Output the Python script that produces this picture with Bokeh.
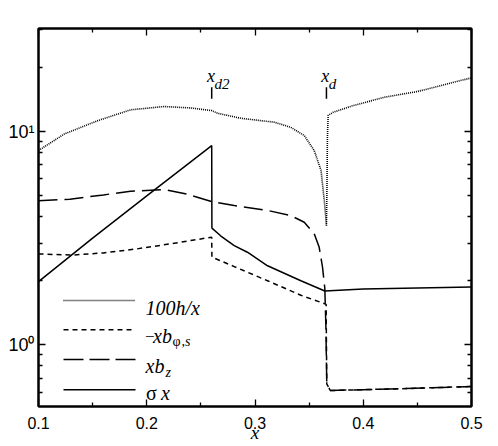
import math
from bokeh.plotting import figure
from bokeh.models import FixedTicker, LinearAxis, LogAxis
from bokeh.core.properties import value
from bokeh.embed import file_html
from bokeh.resources import INLINE

# ---------------- data ----------------
x_ticks = [0.1, 0.2, 0.3, 0.4, 0.5]
x_tick_labels = ["0.1", "0.2", "0.3", "0.4", "0.5"]
x_minor = [0.15, 0.25, 0.35, 0.45]
y_ticks = [1, 10]
y_tick_labels = ["10\u2070", "10\u00b9"]
y_minor = [0.6, 0.7, 0.8, 0.9, 2, 3, 4, 5, 6, 7, 8, 9, 20, 30]

x_d2 = 0.26
x_d = 0.366

# 100h/x (dotted)
x_h = [0.100, 0.124, 0.155, 0.185, 0.216, 0.241, 0.260, 0.2655, 0.287, 0.318, 0.333,
       0.3455, 0.3547, 0.361, 0.364, 0.3655, 0.3660, 0.3665, 0.3669, 0.3676, 0.372,
       0.390, 0.420, 0.450, 0.475, 0.500]
h_x = [8.15, 9.75, 11.26, 12.64, 13.1, 12.9, 12.54, 12.18, 11.54, 11.06, 10.47,
       9.58, 8.15, 6.57, 4.75, 3.9, 3.62, 5.5, 9.5, 11.9, 12.3,
       13.2, 14.5, 15.4, 16.6, 17.85]

# -x b_{phi,s} (short dashed)
x_phi = [0.100, 0.1325, 0.160, 0.191, 0.222, 0.260, 0.2602, 0.2808, 0.3116, 0.3424,
         0.3645, 0.3657, 0.3663, 0.3695, 0.435, 0.500]
b_phi = [2.67, 2.64, 2.70, 2.82, 2.98, 3.20, 2.58, 2.33, 2.00, 1.71,
         1.56, 1.55, 0.658, 0.612, 0.624, 0.639]

# x b_z (long dashed)
x_z = [0.100, 0.129, 0.160, 0.185, 0.208, 0.216, 0.237, 0.260, 0.2808, 0.3116, 0.333,
       0.3455, 0.3547, 0.3593, 0.3624, 0.3645, 0.3655, 0.3663, 0.3695, 0.435, 0.500]
b_z = [4.74, 4.82, 5.05, 5.25, 5.33, 5.35, 5.10, 4.70, 4.50, 4.27, 4.04,
       3.76, 3.32, 2.87, 2.31, 1.84, 1.21, 0.658, 0.612, 0.624, 0.639]

# sigma x (solid)
x_s = [0.100, 0.150, 0.200, 0.260, 0.2602, 0.2685, 0.2808, 0.293, 0.3116, 0.3424,
       0.3645, 0.400, 0.500]
sig_x = [1.98, 3.17, 5.00, 8.60, 3.53, 3.24, 2.92, 2.72, 2.35, 2.00,
         1.79, 1.83, 1.87]

legend_labels = ["100h/x", "\u2212", "xb", "\u03c3"]
x_title = "x"

# ---------------- layout helpers (image pixels -> data) ----------------
X0, X1 = 0.1, 0.5
Y0, Y1 = 0.515, 30.4
FL, FR, FT, FB = 38.0, 471.0, 28.0, 406.0


def dx(px):
    return X0 + (px - FL) / (FR - FL) * (X1 - X0)


def dy(py):
    l0, l1 = math.log10(Y0), math.log10(Y1)
    return 10 ** (l0 + (FB - py) / (FB - FT) * (l1 - l0))


p = figure(width=498, height=446, x_range=(X0, X1), y_range=(Y0, Y1),
           y_axis_type="log", output_backend="svg", toolbar_location=None,
           min_border_left=38, min_border_right=27, min_border_top=28,
           min_border_bottom=40)
p.background_fill_color = "white"
p.border_fill_color = "white"
p.outline_line_color = "black"
p.outline_line_width = 2
p.grid.visible = False

xa = p.below[0]
ya = p.left[0]

xt = FixedTicker(ticks=x_ticks, minor_ticks=x_minor)
yt = FixedTicker(ticks=y_ticks, minor_ticks=y_minor)

top = LinearAxis(ticker=xt)
right = LogAxis(ticker=yt)
p.add_layout(top, "above")
p.add_layout(right, "right")
xa.ticker = xt
ya.ticker = yt

for ax in [xa, top, ya, right]:
    ax.axis_line_color = "black"
    ax.axis_line_width = 2
    ax.major_tick_in = 7
    ax.major_tick_out = 0
    ax.minor_tick_in = 4
    ax.minor_tick_out = 0
    ax.major_tick_line_width = 1.3
    ax.minor_tick_line_width = 1.3
    ax.major_tick_line_color = "black"
    ax.minor_tick_line_color = "black"

for ax in [top, right]:
    ax.major_label_text_font_size = "1px"
    ax.major_label_text_alpha = 0
    ax.major_label_standoff = 0

xa.major_label_overrides = {t: l for t, l in zip(x_ticks, x_tick_labels)}
xa.major_label_text_font = "Liberation Sans"
xa.major_label_text_font_size = "16px"
xa.major_label_text_color = "black"
xa.major_label_standoff = 10
xa.axis_label = x_title
xa.axis_label_text_font = "Liberation Serif"
xa.axis_label_text_font_style = "italic"
xa.axis_label_text_font_size = "19px"
xa.axis_label_text_color = "black"
xa.axis_label_standoff = -10

ya.major_label_overrides = {t: l for t, l in zip(y_ticks, y_tick_labels)}
ya.major_label_text_font = "Liberation Sans"
ya.major_label_text_font_size = "18px"
ya.major_label_text_color = "black"
ya.major_label_standoff = 4

# ---------------- curves ----------------
p.line(x_h, h_x, line_color="black", line_width=1.6, line_dash="1 1")
p.line(x_phi, b_phi, line_color="black", line_width=1.5, line_dash="5 4")
p.line(x_z, b_z, line_color="black", line_width=1.5, line_dash="19 7")
p.line(x_s, sig_x, line_color="black", line_width=1.5)

# x_d markers
p.segment(x0=[x_d2, x_d], y0=[dy(98.3)] * 2, x1=[x_d2, x_d], y1=[dy(86.7)] * 2,
          line_color="black", line_width=1.5)

SERIF = "Liberation Serif"


def txt(text, px, py, size, style="italic"):
    p.text(x=[dx(px)], y=[dy(py)], text=[text], text_font=value(SERIF),
           text_font_style=style, text_font_size=size, text_color="black",
           text_align="left", text_baseline="alphabetic")


txt("x", 206.5, 75.7, "18px")
txt("d2", 214.0, 83.3, "15px")
txt("x", 320.8, 75.7, "18px")
txt("d", 328.3, 83.3, "15px")

# ---------------- legend (manual, for subscripts) ----------------
key_rows = [300.0, 329.3, 359.0, 389.3]
key_styles = [("1 1", 1.6), ("5 4", 1.5), ("20 6", 1.5), ("solid", 1.5)]
for ry, (dash, lw) in zip(key_rows, key_styles):
    p.line([dx(63.0), dx(135.0)], [dy(ry), dy(ry)], line_color="black",
           line_width=lw, line_dash=dash)

txt(legend_labels[0], 145.0, 307.7, "20px")
txt(legend_labels[1], 144.5, 335.5, "17px", "normal")
txt(legend_labels[2], 152.5, 335.5, "20px")
txt("\u03c6", 172.0, 340.5, "14px", "normal")
txt(",s", 181.0, 340.5, "14px")
txt(legend_labels[2], 145.0, 365.0, "20px")
txt("z", 165.0, 371.5, "14px")
txt(legend_labels[3], 145.5, 392.3, "20px", "normal")
txt("x", 160.5, 392.3, "20px")

open("out.html", "w").write(file_html(p, INLINE))
